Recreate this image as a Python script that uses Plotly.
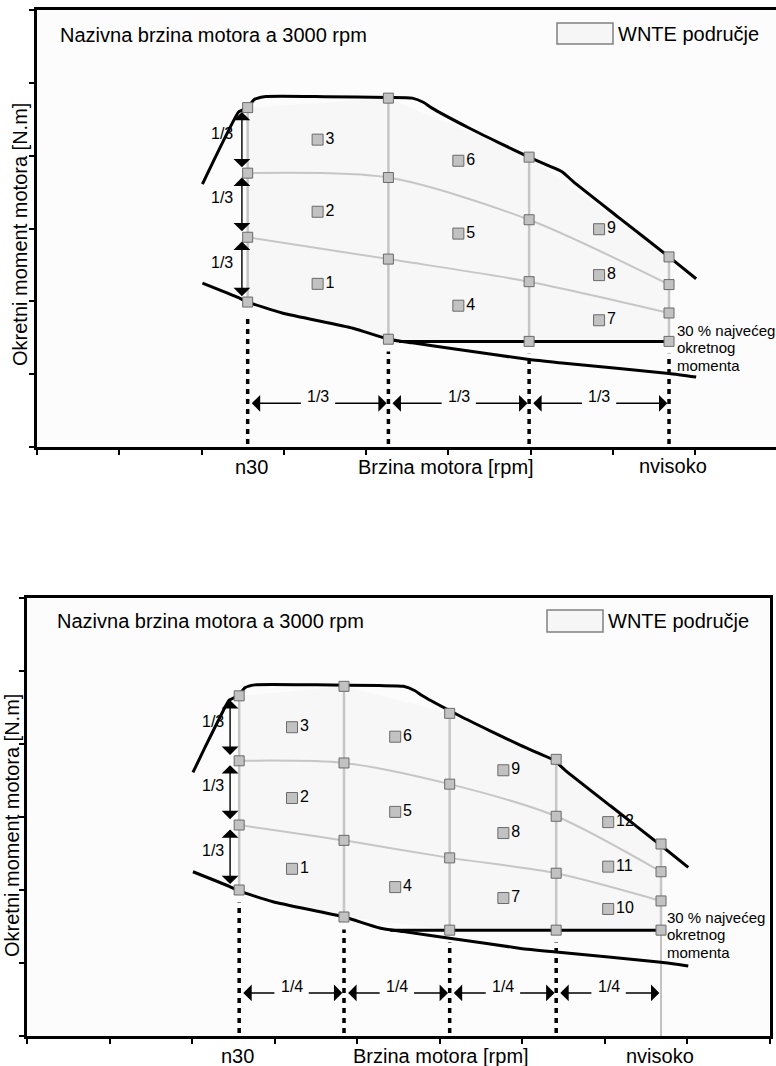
import plotly.graph_objects as go

# ---------------- data (axis units: 1 unit = one tick interval) ----------------
# full-load (maximum torque) curve, shared by both panels
full_x = [2.01, 2.15, 2.33, 2.45, 2.56, 2.64, 2.76, 3.50, 4.27, 4.56, 4.70, 4.79,
          5.25, 5.61, 5.98, 6.20, 6.38, 6.52, 7.07, 7.68, 8.01]
full_y = [3.61, 3.94, 4.35, 4.60, 4.66, 4.77, 4.81, 4.81, 4.80, 4.79, 4.73, 4.66,
          4.38, 4.18, 3.98, 3.87, 3.78, 3.64, 3.15, 2.61, 2.31]
# lower torque curve
low_x = [2.01, 2.45, 2.56, 2.98, 3.84, 4.27, 4.56, 5.12, 5.98, 6.41, 7.68, 8.01]
low_y = [2.25, 2.05, 1.99, 1.84, 1.63, 1.48, 1.43, 1.34, 1.20, 1.15, 1.01, 0.96]
# 30 % of max torque line
line30_x = [4.40, 7.68]
line30_y = [1.45, 1.45]

# top panel grid (speed thirds)
top_speeds = [2.56, 4.27, 5.98, 7.68]
top_max = [4.66, 4.79, 3.98, 2.61]
top_l2 = [3.76, 3.70, 3.12, 2.23]
top_l1 = [2.88, 2.58, 2.27, 1.84]
top_min = [1.99, 1.48, 1.45, 1.45]
top_mode_x = [3.41, 3.41, 3.41, 5.12, 5.12, 5.12, 6.83, 6.83, 6.83]
top_mode_y = [2.24, 3.23, 4.22, 1.94, 2.93, 3.93, 1.74, 2.36, 2.99]
top_mode_lbl = ["1", "2", "3", "4", "5", "6", "7", "8", "9"]

# bottom panel grid (speed quarters)
bot_speeds = [2.57, 3.84, 5.12, 6.41, 7.68]
bot_max = [4.66, 4.79, 4.42, 3.79, 2.63]
bot_l2 = [3.77, 3.74, 3.45, 3.01, 2.25]
bot_l1 = [2.89, 2.68, 2.44, 2.23, 1.85]
bot_min = [2.00, 1.63, 1.45, 1.45, 1.45]
bot_mode_x = [3.21, 3.21, 3.21, 4.46, 4.46, 4.46, 5.77, 5.77, 5.77, 7.04, 7.04, 7.04]
bot_mode_y = [2.29, 3.26, 4.23, 2.04, 3.07, 4.10, 1.89, 2.78, 3.64, 1.74, 2.32, 2.93]
bot_mode_lbl = ["1", "2", "3", "4", "5", "6", "7", "8", "9", "10", "11", "12"]

title_txt = "Nazivna brzina motora a 3000 rpm"
legend_txt = "WNTE područje"
ytitle_txt = "Okretni moment motora [N.m]"
xtitle_txt = "Brzina motora [rpm]"
n30_txt = "n30"
nhigh_txt = "nvisoko"
pct_lines = ["30 % najvećeg", "okretnog", "momenta"]

# ---------------- styling ----------------
W, H = 776, 1066
FONT = "Liberation Sans, Arial, sans-serif"
GRAY_LINE = "#c6c6c6"
MK_FILL = "#c2c2c2"
MK_EDGE = "#6a6a6a"
ARROW = dict(showarrow=True, arrowhead=1, arrowsize=2.0, arrowwidth=1.4,
             arrowcolor="black")


def px_x(p):
    return p / W


def px_y(p):
    return 1 - p / H


fig = go.Figure()
annotations = []
shapes = []


def panel(xa, ya, speeds, tmax, tl2, tl1, tmin, mx, my, mlbl, frac, arrow_y,
          varrow_x, vlbl_x, last_dotted):
    xr, yr = xa, ya
    # faint WNTE area
    fig.add_trace(go.Scatter(x=speeds + speeds[::-1], y=tmax + tmin[::-1],
                             mode="lines", fill="toself", xaxis=xa, yaxis=ya,
                             fillcolor="rgba(0,0,0,0.018)", line=dict(width=0),
                             hoverinfo="skip", showlegend=False))
    # gray verticals
    vx, vy = [], []
    for s, a, b in zip(speeds, tmin, tmax):
        vx += [s, s, None]
        vy += [a, b, None]
    fig.add_trace(go.Scatter(x=vx, y=vy, mode="lines", xaxis=xa, yaxis=ya,
                             line=dict(color=GRAY_LINE, width=2.5),
                             hoverinfo="skip", showlegend=False))
    # gray intermediate torque curves
    for arr in (tl2, tl1):
        fig.add_trace(go.Scatter(x=speeds, y=arr, mode="lines", xaxis=xa, yaxis=ya,
                                 line=dict(color=GRAY_LINE, width=2, shape="spline",
                                           smoothing=0.8),
                                 hoverinfo="skip", showlegend=False))
    # dotted verticals down to the axis
    dx, dy = [], []
    n_dot = len(speeds) if last_dotted else len(speeds) - 1
    for s, b in zip(speeds[:n_dot], tmin[:n_dot]):
        dx += [s, s, None]
        dy += [0.04, b - 0.17, None]
    fig.add_trace(go.Scatter(x=dx, y=dy, mode="lines", xaxis=xa, yaxis=ya,
                             line=dict(color="black", width=3.5, dash="5px,5px"),
                             hoverinfo="skip", showlegend=False))
    if not last_dotted:
        fig.add_trace(go.Scatter(x=[speeds[-1], speeds[-1]], y=[0, tmin[-1]],
                                 mode="lines", xaxis=xa, yaxis=ya,
                                 line=dict(color="#8a8a8a", width=1),
                                 hoverinfo="skip", showlegend=False))
    # black curves
    fig.add_trace(go.Scatter(x=full_x, y=full_y, mode="lines", xaxis=xa, yaxis=ya,
                             line=dict(color="black", width=3, shape="spline",
                                       smoothing=0.5),
                             hoverinfo="skip", showlegend=False))
    fig.add_trace(go.Scatter(x=low_x, y=low_y, mode="lines", xaxis=xa, yaxis=ya,
                             line=dict(color="black", width=3, shape="spline",
                                       smoothing=0.5),
                             hoverinfo="skip", showlegend=False))
    fig.add_trace(go.Scatter(x=line30_x, y=line30_y, mode="lines", xaxis=xa, yaxis=ya,
                             line=dict(color="black", width=3),
                             hoverinfo="skip", showlegend=False))
    # grid markers
    gx, gy = [], []
    for i, s in enumerate(speeds):
        for arr in (tmax, tl2, tl1, tmin):
            gx.append(s)
            gy.append(arr[i])
    fig.add_trace(go.Scatter(x=gx, y=gy, mode="markers", xaxis=xa, yaxis=ya,
                             marker=dict(symbol="square", size=10, color=MK_FILL,
                                         line=dict(color=MK_EDGE, width=1)),
                             hoverinfo="skip", showlegend=False))
    # mode points with numbers
    fig.add_trace(go.Scatter(x=mx, y=my, text=mlbl, mode="markers+text",
                             textposition="middle right", xaxis=xa, yaxis=ya,
                             textfont=dict(family=FONT, size=16, color="black"),
                             marker=dict(symbol="square", size=11, color=MK_FILL,
                                         line=dict(color=MK_EDGE, width=1)),
                             hoverinfo="skip", showlegend=False))
    # horizontal fraction arrows
    g = 0.19
    for l, r in zip(speeds[:-1], speeds[1:]):
        m = (l + r) / 2
        annotations.append(dict(xref=xr, yref=yr, axref=xr, ayref=yr,
                                x=l + 0.05, y=arrow_y, ax=m - g, ay=arrow_y, text="",
                                **ARROW))
        annotations.append(dict(xref=xr, yref=yr, axref=xr, ayref=yr,
                                x=r - 0.02, y=arrow_y, ax=m + g, ay=arrow_y, text="",
                                **ARROW))
        annotations.append(dict(xref=xr, yref=yr, x=m, y=arrow_y + 0.09, text=frac,
                                showarrow=False,
                                font=dict(family=FONT, size=16, color="black")))
    # vertical 1/3 arrows at n30
    col = [tmin[0], tl1[0], tl2[0], tmax[0]]
    for a, b in zip(col[:-1], col[1:]):
        annotations.append(dict(xref=xr, yref=yr, axref=xr, ayref=yr,
                                x=varrow_x, y=b - 0.06, ax=varrow_x, ay=a + 0.06,
                                text="", arrowside="end+start", **ARROW))
        annotations.append(dict(xref=xr, yref=yr, x=vlbl_x, y=(a + b) / 2 + 0.1,
                                text="1/3", showarrow=False,
                                font=dict(family=FONT, size=16, color="black")))


panel("x", "y", top_speeds, top_max, top_l2, top_l1, top_min,
      top_mode_x, top_mode_y, top_mode_lbl, "1/3", 0.60, 2.49, 2.25, True)
panel("x2", "y2", bot_speeds, bot_max, bot_l2, bot_l1, bot_min,
      bot_mode_x, bot_mode_y, bot_mode_lbl, "1/4", 0.59, 2.46, 2.25, False)


def txt(x, y, s, size=20, xanchor="left", angle=0):
    annotations.append(dict(xref="paper", yref="paper", x=x, y=y, text=s,
                            showarrow=False, xanchor=xanchor, yanchor="middle",
                            textangle=angle,
                            font=dict(family=FONT, size=size, color="black")))


# top panel texts
txt(px_x(58), px_y(35), title_txt)
txt(px_x(616), px_y(34), legend_txt)
txt(px_x(20), px_y(235), ytitle_txt, xanchor="center", angle=-90)
txt(px_x(251), px_y(467), n30_txt, xanchor="center")
txt(px_x(446), px_y(467), xtitle_txt, xanchor="center")
txt(px_x(673), px_y(466), nhigh_txt, xanchor="center")
for k, s in enumerate(pct_lines):
    txt(px_x(675), px_y(330 + 17.5 * k), s, size=15)
shapes.append(dict(type="rect", xref="paper", yref="paper",
                   x0=px_x(557), x1=px_x(613), y0=px_y(44), y1=px_y(23),
                   line=dict(color="#808080", width=1.5), fillcolor="#f6f6f6"))

# bottom panel texts
txt(px_x(55), px_y(621), title_txt)
txt(px_x(606), px_y(621), legend_txt)
txt(px_x(12), px_y(826), ytitle_txt, xanchor="center", angle=-90)
txt(px_x(237), px_y(1056), n30_txt, xanchor="center")
txt(px_x(441), px_y(1056), xtitle_txt, xanchor="center")
txt(px_x(660), px_y(1056), nhigh_txt, xanchor="center")
for k, s in enumerate(pct_lines):
    txt(px_x(665), px_y(917 + 17.5 * k), s, size=15)
shapes.append(dict(type="rect", xref="paper", yref="paper",
                   x0=px_x(547), x1=px_x(603), y0=px_y(632), y1=px_y(610),
                   line=dict(color="#808080", width=1.5), fillcolor="#f6f6f6"))

ax_common = dict(showgrid=False, zeroline=False, showticklabels=False,
                 showline=True, linecolor="black", linewidth=3,
                 ticks="outside", ticklen=5, tickwidth=1.5, tickcolor="black",
                 dtick=1, tick0=0, fixedrange=True)

fig.update_layout(
    width=W, height=H,
    margin=dict(l=0, r=0, t=0, b=0),
    paper_bgcolor="white", plot_bgcolor="#fcfcfc",
    showlegend=False,
    font=dict(family=FONT, color="black"),
    xaxis=dict(domain=[px_x(37), 1.0], range=[0, 8.98], mirror=True,
               anchor="y", **ax_common),
    yaxis=dict(domain=[px_y(447), px_y(10)], range=[0, 6], mirror=False,
               anchor="x", **ax_common),
    xaxis2=dict(domain=[px_x(27), px_x(770)], range=[0, 9], mirror=True,
                anchor="y2", **ax_common),
    yaxis2=dict(domain=[px_y(1036), px_y(598)], range=[0, 6], mirror=True,
                anchor="x2", **ax_common),
    annotations=annotations,
    shapes=shapes,
)

fig.write_html("out.html")
